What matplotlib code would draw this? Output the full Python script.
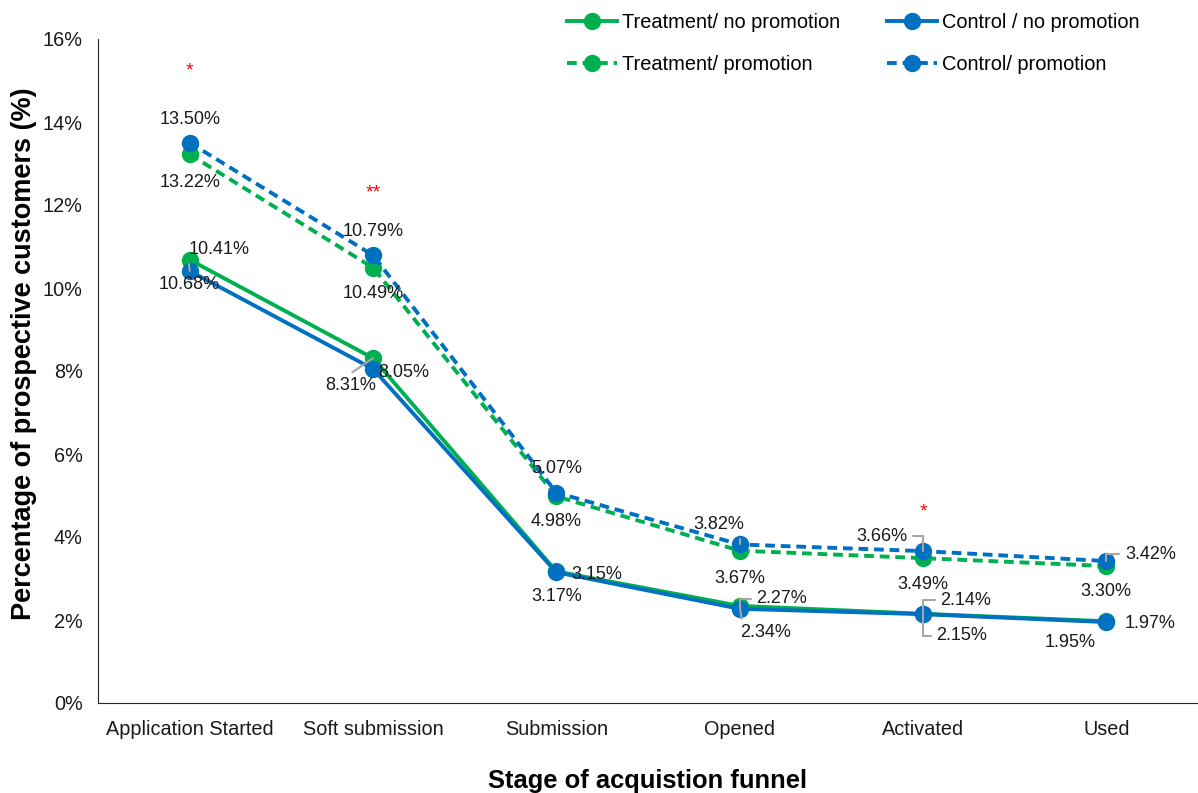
import matplotlib
matplotlib.use('Agg')
import matplotlib.pyplot as plt
from matplotlib.ticker import PercentFormatter

plt.rcParams['font.family'] = ['Liberation Sans', 'DejaVu Sans']

# data (percent)
stages = ['Application Started', 'Soft submission', 'Submission', 'Opened', 'Activated', 'Used']
treat_nopromo = [10.68, 8.31, 3.17, 2.34, 2.15, 1.97]
ctrl_nopromo = [10.41, 8.05, 3.15, 2.27, 2.14, 1.95]
treat_promo = [13.22, 10.49, 4.98, 3.67, 3.49, 3.30]
ctrl_promo = [13.50, 10.79, 5.07, 3.82, 3.66, 3.42]
stars = ['*', '**', '', '', '*', '']

GREEN = '#00B050'
BLUE = '#0070C0'
GREY = '#A6A6A6'

# label offsets in pixels (dx, dy) + leader line: None, or (relpos, style)
ANG = 'angle,angleA=0,angleB=90,rad=0'
STR = 'arc3'
off_tn = [(0, -25, None), (-22, -27, ((0.4, 1.0), STR)), (0, -25, None),
          (26, -27, ((0.05, 0.9), STR)), (39, -22, ((0.0, 0.5), ANG)), (44, -2, None)]
off_cn = [(29, 21, ((0.0, 0.1), STR)), (31, -4, None), (40, -2, None),
          (42, 10, ((0.0, 0.5), ANG)), (43, 14, ((0.0, 0.5), ANG)), (-36, -20, None)]
off_tp = [(0, -28, None), (0, -26, None), (0, -25, None), (0, -28, None), (0, -26, None), (0, -25, None)]
off_cp = [(0, 23, None), (0, 24, None), (0, 24, None), (-21, 20, ((1.0, 0.5), ANG)),
          (-41, 15, ((1.0, 0.5), ANG)), (44, 7, ((0.0, 0.5), ANG))]
star_off = [72, 62, 0, 0, 39, 0]

fig = plt.figure(figsize=(11.98, 7.93), dpi=100)
ax = fig.add_axes([98 / 1198, 1 - 703 / 793, 1 - 98 / 1198, (703 - 39) / 793])

x = list(range(len(stages)))
lw = 2.8
ms = 11.5
ax.plot(x, treat_nopromo, '-o', color=GREEN, lw=lw, ms=ms, label='Treatment/ no promotion', zorder=3)
ax.plot(x, ctrl_nopromo, '-o', color=BLUE, lw=lw, ms=ms, label='Control / no promotion', zorder=4)
ax.plot(x, treat_promo, '--o', color=GREEN, lw=lw, ms=ms, dashes=(2.5, 1.5), label='Treatment/ promotion', zorder=3)
ax.plot(x, ctrl_promo, '--o', color=BLUE, lw=lw, ms=ms, dashes=(2.5, 1.5), label='Control/ promotion', zorder=4)


def put_labels(vals, offs):
    for i, v in enumerate(vals):
        dx, dy, lead = offs[i]
        kw = {}
        if lead:
            rp, cs = lead
            kw['arrowprops'] = dict(arrowstyle='-', color=GREY, lw=1.5, shrinkA=2, shrinkB=0,
                                    relpos=rp, connectionstyle=cs)
        ax.annotate('%.2f%%' % v, xy=(i, v), xytext=(dx, dy), textcoords='offset pixels',
                    ha='center', va='center', fontsize=13, color='#1a1a1a', zorder=6, **kw)


put_labels(treat_nopromo, off_tn)
put_labels(ctrl_nopromo, off_cn)
put_labels(treat_promo, off_tp)
put_labels(ctrl_promo, off_cp)

for i, s in enumerate(stars):
    if s:
        ax.annotate(s, xy=(i, ctrl_promo[i]), xytext=(0, star_off[i]), textcoords='offset pixels',
                    ha='center', va='center', fontsize=14, color='red')

ax.set_xlim(-0.5, len(stages) - 0.5)
ax.set_ylim(0, 16)
ax.set_yticks(range(0, 17, 2))
ax.yaxis.set_major_formatter(PercentFormatter(decimals=0))
ax.set_xticks(x)
ax.set_xticklabels(stages)
ax.tick_params(axis='both', length=0, labelsize=14.3, colors='#1a1a1a')
ax.tick_params(axis='y', pad=11)
ax.tick_params(axis='x', pad=12)
ax.spines['top'].set_visible(False)
ax.spines['right'].set_visible(False)
ax.spines['left'].set_color('#262626')
ax.spines['bottom'].set_color('#262626')

ax.set_ylabel('Percentage of prospective customers (%)', fontsize=19.5, fontweight='bold')
ax.yaxis.set_label_coords(-0.0555, 0.5256)
ax.set_xlabel('Stage of acquistion funnel', fontsize=18.4, fontweight='bold', labelpad=22)

h, l = ax.get_legend_handles_labels()
order = [0, 2, 1, 3]
fig.legend([h[k] for k in order], [l[k] for k in order], loc='center',
           bbox_to_anchor=(853 / 1198, 1 - 43.5 / 793), ncol=2, frameon=False,
           fontsize=14.4, labelspacing=1.15, handlelength=2.5, handletextpad=0.25,
           columnspacing=2.35)

fig.savefig('out.png', dpi=100)
